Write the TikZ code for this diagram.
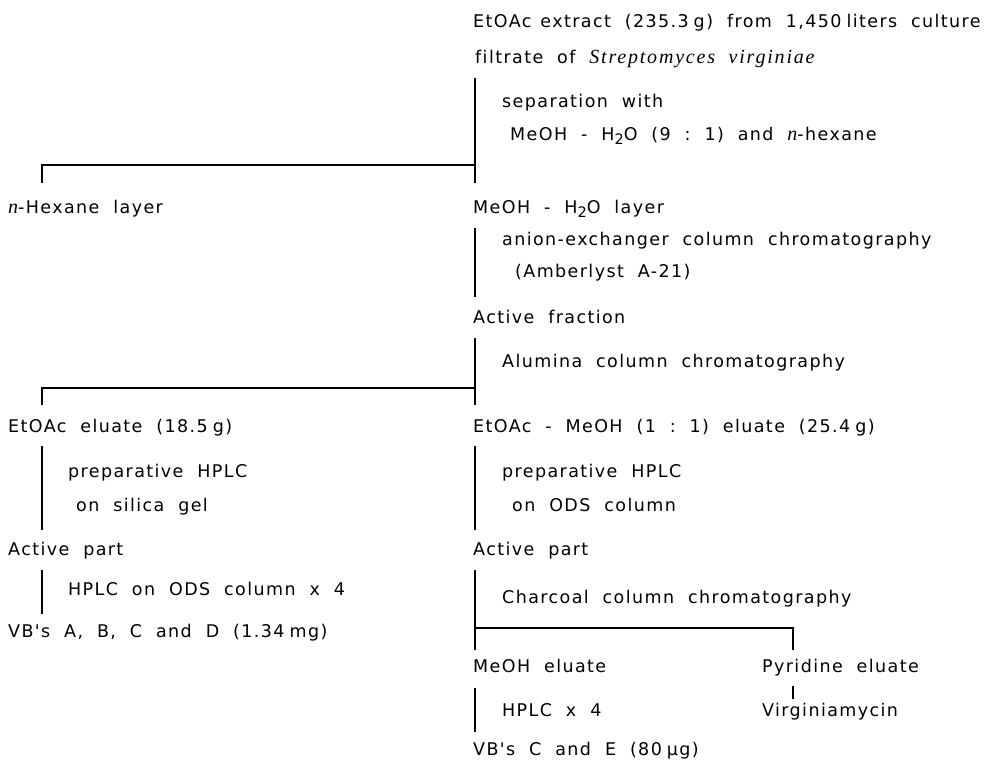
\documentclass[tikz,border=0pt]{standalone}
\usepackage{fontspec}
\newfontfamily\lab[LetterSpace=8,Ligatures=NoCommon]{DejaVu Sans}
\newfontfamily\ser[LetterSpace=9]{Liberation Serif}
\newcommand{\itn}{{\ser\itshape\fontsize{20}{20}\selectfont n}}
\newcommand{\tsp}{\hspace{5pt}}
\newcommand{\subtwo}{\raisebox{-4pt}{\fontsize{14.5}{14}\selectfont 2}}
\begin{document}
\begin{tikzpicture}[x=1pt,y=-1pt,
  lbl/.style={anchor=mid west, inner sep=0pt, yshift=-3.5pt, font=\lab\fontsize{17.5}{20}\selectfont},
  ln/.style={line width=1.3pt, line cap=butt}]
\useasboundingbox (0,0) rectangle (985,770);
% texts
\node[lbl] (src1) at (473,22) {EtOAc\ \hspace{2pt}extract\ \ (235.3\tsp g)\ \ from\ \ 1,450\tsp liters\ \ culture};
\node[lbl] (src2) at (475,58) {filtrate\ \ of\ \ {\ser\itshape\fontsize{20}{20}\selectfont Streptomyces\ \ virginiae}};
\node[lbl] (sep1) at (502,102) {separation\ \ with};
\node[lbl] (sep2) at (510,135) {MeOH\ \ -\ \ H\subtwo O\ \ (9\ \ :\ \ 1)\ \ and\ \ \itn-hexane};
\node[lbl] (hex) at (8,208) {\itn-Hexane\ \ layer};
\node[lbl] (meoh) at (473,208) {MeOH\ \ -\ \ H\subtwo O\ \ layer};
\node[lbl] (an1) at (502,240) {anion-exchanger\ \ column\ \ chromatography};
\node[lbl] (an2) at (515,272) {(Amberlyst\ \ A-21)};
\node[lbl] (act) at (473,318) {Active\ \ fraction};
\node[lbl] (alu) at (502,362) {Alumina\ \ column\ \ chromatography};
\node[lbl] (ea) at (8,427) {EtOAc\ \ eluate\ \ (18.5\tsp g)};
\node[lbl] (em) at (473,427) {EtOAc\ \ -\ \ MeOH\ \ (1\ \ :\ \ 1)\ \ eluate\ \ (25.4\tsp g)};
\node[lbl] (ph1) at (68,472) {preparative\ \ HPLC};
\node[lbl] (ph2) at (76,506) {on\ \ silica\ \ gel};
\node[lbl] (pr1) at (502,472) {preparative\ \ HPLC};
\node[lbl] (pr2) at (512,506) {on\ \ ODS\ \ column};
\node[lbl] (apl) at (8,550) {Active\ \ part};
\node[lbl] (apr) at (473,550) {Active\ \ part};
\node[lbl] (hods) at (68,590) {HPLC\ \ on\ \ ODS\ \ column\ \ x\ \ 4};
\node[lbl] (vbl) at (8,632) {VB's\ \ A,\ \ B,\ \ C\ \ and\ \ D\ \ (1.34\tsp mg)};
\node[lbl] (char) at (502,598) {Charcoal\ \ column\ \ chromatography};
\node[lbl] (mel) at (473,667) {MeOH\ \ eluate};
\node[lbl] (pyr) at (762,667) {Pyridine\ \ eluate};
\node[lbl] (hx4) at (502,711) {HPLC\ \ x\ \ 4};
\node[lbl] (vir) at (762,711) {Virginiamycin};
\node[lbl] (vbr) at (473,750) {VB's\ \ C\ \ and\ \ E\ \ (80\tsp μg)};
% junction coordinates
\coordinate (j1a) at (475,78);
\coordinate (j1b) at (475,183);
\coordinate (j1h) at (475,165);
\coordinate (j1l) at (42,165);
\coordinate (j1lb) at (42,183);
\coordinate (j2a) at (475,228);
\coordinate (j2b) at (475,297);
\coordinate (j3a) at (475,338);
\coordinate (j3b) at (475,405);
\coordinate (j3h) at (475,388);
\coordinate (j3l) at (42,388);
\coordinate (j3lb) at (42,405);
\coordinate (j4a) at (42,446);
\coordinate (j4b) at (42,530);
\coordinate (j5a) at (475,446);
\coordinate (j5b) at (475,530);
\coordinate (j6a) at (42,570);
\coordinate (j6b) at (42,614);
\coordinate (j7a) at (475,570);
\coordinate (j7b) at (475,650);
\coordinate (j7h) at (475,628);
\coordinate (j7r) at (793,628);
\coordinate (j7rb) at (793,650);
\coordinate (j8a) at (793,686);
\coordinate (j8b) at (793,699);
\coordinate (j9a) at (475,688);
\coordinate (j9b) at (475,732);
% connectors
\draw[ln] (j1a) -- (j1b);
\draw[ln] (j1lb) -- (j1l) -- (j1h);
\draw[ln] (j2a) -- (j2b);
\draw[ln] (j3a) -- (j3b);
\draw[ln] (j3lb) -- (j3l) -- (j3h);
\draw[ln] (j4a) -- (j4b);
\draw[ln] (j5a) -- (j5b);
\draw[ln] (j6a) -- (j6b);
\draw[ln] (j7a) -- (j7b);
\draw[ln] (j7h) -- (j7r) -- (j7rb);
\draw[ln] (j8a) -- (j8b);
\draw[ln] (j9a) -- (j9b);
\end{tikzpicture}
\end{document}
